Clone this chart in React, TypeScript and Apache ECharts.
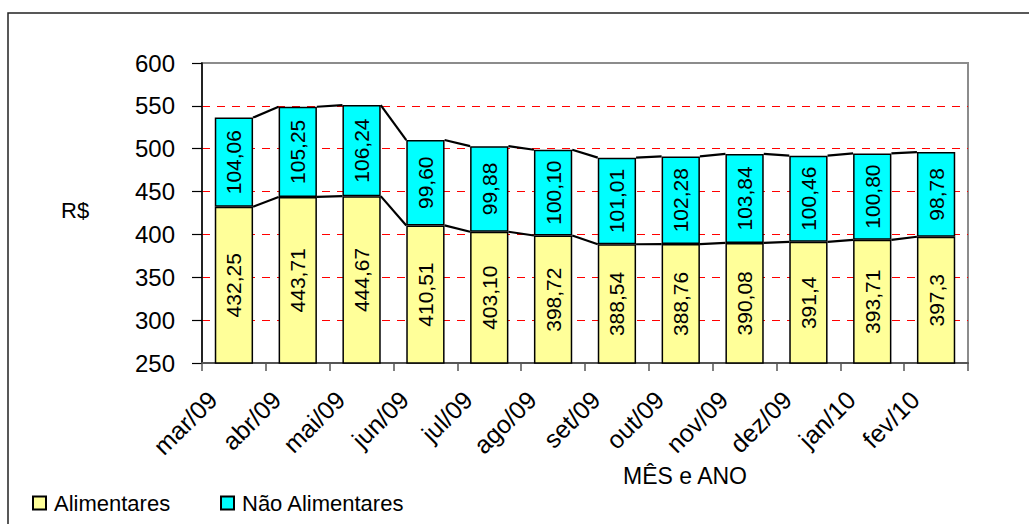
import React, { useEffect, useRef } from "react";
import * as echarts from "echarts";

const months = ["mar/09", "abr/09", "mai/09", "jun/09", "jul/09", "ago/09", "set/09", "out/09", "nov/09", "dez/09", "jan/10", "fev/10"];
const alimentares = [432.25, 443.71, 444.67, 410.51, 403.1, 398.72, 388.54, 388.76, 390.08, 391.4, 393.71, 397.3];
const naoAlimentares = [104.06, 105.25, 106.24, 99.6, 99.88, 100.1, 101.01, 102.28, 103.84, 100.46, 100.8, 98.78];
const alimentaresLabels = ["432,25", "443,71", "444,67", "410,51", "403,10", "398,72", "388,54", "388,76", "390,08", "391,4", "393,71", "397,3"];
const naoAlimentaresLabels = ["104,06", "105,25", "106,24", "99,60", "99,88", "100,10", "101,01", "102,28", "103,84", "100,46", "100,80", "98,78"];
const yMin = 250;
const yMax = 600;
const yStep = 50;

const FONT = "'Liberation Sans', Arial, sans-serif";

export default function App() {
  const ref = useRef<HTMLDivElement>(null);
  useEffect(() => {
    if (!ref.current) return;
    const chart = echarts.init(ref.current, undefined, { renderer: "svg" });
    const totals = alimentares.map((v, i) => v + naoAlimentares[i]);
    const lineData = months.slice(0, -1).map((_, i) => [i, alimentares[i], alimentares[i + 1], totals[i], totals[i + 1]]);
    const labelBase = { show: true, position: "inside", rotate: 90, fontSize: 21, color: "#000", fontFamily: FONT };
    const legendText = { fontSize: 22, color: "#000", fontFamily: FONT, padding: [0, 0, 0, 3] };
    chart.setOption({
      animation: false,
      backgroundColor: "#fff",
      textStyle: { fontFamily: FONT },
      grid: { left: 202, top: 63, right: 61, bottom: 161, show: true, borderColor: "#8c8c8c", borderWidth: 2, backgroundColor: "transparent" },
      legend: [
        { data: ["Alimentares"], left: 32, top: 492, padding: 0, itemWidth: 13, itemHeight: 13, icon: "rect", textStyle: legendText },
        { data: ["Não Alimentares"], left: 220, top: 492, padding: 0, itemWidth: 13, itemHeight: 13, icon: "rect", textStyle: legendText },
      ],
      xAxis: {
        type: "category",
        data: months,
        boundaryGap: true,
        axisLine: { lineStyle: { color: "#555", width: 2 } },
        axisTick: { show: true, length: 8, lineStyle: { color: "#555", width: 1.5 } },
        axisLabel: { rotate: 45, fontSize: 25, color: "#000", fontFamily: FONT, margin: 11, padding: [0, 30, 0, 0], interval: 0 },
      },
      yAxis: {
        type: "value",
        min: yMin,
        max: yMax,
        interval: yStep,
        axisLine: { show: true, lineStyle: { color: "#000", width: 1.5 } },
        axisTick: { show: true, length: 10, lineStyle: { color: "#000", width: 1.2 } },
        axisLabel: { fontSize: 24, color: "#000", fontFamily: FONT, margin: 27 },
        splitLine: { show: true, showMinLine: false, showMaxLine: false, lineStyle: { color: "#ff0000", type: [8, 7], width: 1 } },
      },
      graphic: [
        { type: "rect", shape: { x: 8, y: 13, width: 1040, height: 540 }, style: { fill: "none", stroke: "#222", lineWidth: 1.5 }, silent: true },
        { type: "text", x: 61, y: 199, style: { text: "R$", fontSize: 22, fill: "#000", fontFamily: FONT } },
        { type: "text", x: 623, y: 464, style: { text: "MÊS e ANO", fontSize: 23, fill: "#000", fontFamily: FONT } },
      ],
      series: [
        {
          name: "Alimentares",
          type: "bar",
          stack: "total",
          barWidth: "60%",
          data: alimentares,
          itemStyle: { color: "#FFFF99", borderColor: "#000", borderWidth: 1.5 },
          label: { ...labelBase, formatter: (p: any) => alimentaresLabels[p.dataIndex] },
        },
        {
          name: "Não Alimentares",
          type: "bar",
          stack: "total",
          barWidth: "60%",
          data: naoAlimentares,
          itemStyle: { color: "#00FFFF", borderColor: "#000", borderWidth: 1.5 },
          label: { ...labelBase, formatter: (p: any) => naoAlimentaresLabels[p.dataIndex] },
        },
        {
          name: "linhas",
          type: "custom",
          silent: true,
          data: lineData,
          encode: { x: 0, y: 1 },
          z: 5,
          renderItem: (params: any, api: any) => {
            const i = api.value(0);
            const half = api.size([1, 0])[0] * 0.3;
            const a1 = api.coord([i, api.value(1)]);
            const a2 = api.coord([i + 1, api.value(2)]);
            const t1 = api.coord([i, api.value(3)]);
            const t2 = api.coord([i + 1, api.value(4)]);
            const style = { stroke: "#000", lineWidth: 2.2 };
            return {
              type: "group",
              children: [
                { type: "line", shape: { x1: a1[0] + half, y1: a1[1], x2: a2[0] - half, y2: a2[1] }, style },
                { type: "line", shape: { x1: t1[0] + half, y1: t1[1], x2: t2[0] - half, y2: t2[1] }, style },
              ],
            };
          },
        },
      ],
    });
    return () => chart.dispose();
  }, []);
  return <div ref={ref} style={{ position: "fixed", left: 0, top: 0, width: 1029, height: 524 }} />;
}
